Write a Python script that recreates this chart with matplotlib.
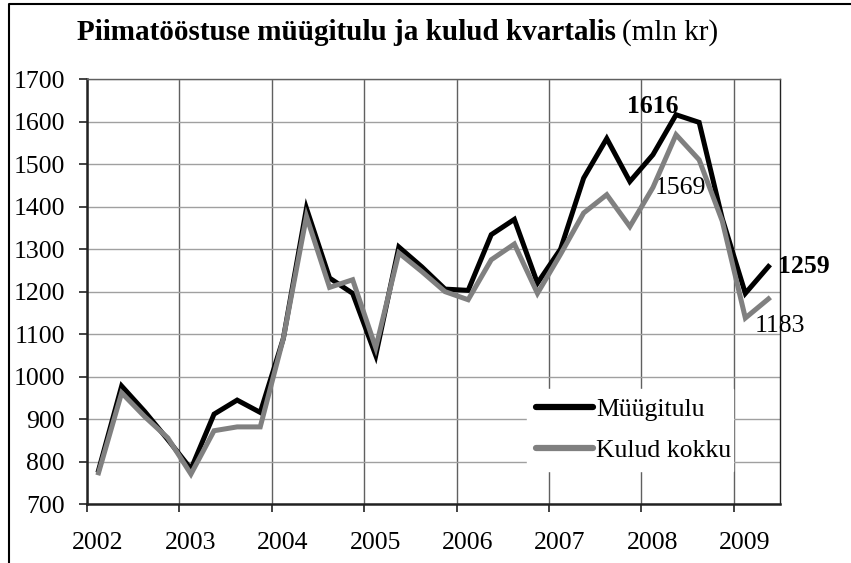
import matplotlib
matplotlib.use('Agg')
import matplotlib.pyplot as plt
import matplotlib.transforms as mtransforms
from matplotlib.lines import Line2D
import numpy as np

plt.rcParams['font.family'] = ['Liberation Serif', 'DejaVu Serif']

# quarterly data 2002 Q1 .. 2009 Q2 (mln kr)
years = [2002, 2003, 2004, 2005, 2006, 2007, 2008, 2009]
myygitulu = [780, 978, 918, 852, 783, 912, 945, 916,
             1090, 1396, 1232, 1196, 1050, 1305, 1258, 1206,
             1203, 1334, 1370, 1220, 1300, 1467, 1560, 1459,
             1522, 1616, 1598, 1372, 1196, 1259]
kulud = [774, 962, 906, 856, 771, 873, 882, 882,
         1090, 1377, 1210, 1228, 1068, 1291, 1247, 1200,
         1181, 1275, 1312, 1196, 1288, 1385, 1428, 1353,
         1445, 1569, 1510, 1366, 1138, 1183]

# x position: middle of each quarter
x = np.array([2002 + (i + 0.5) / 4 for i in range(len(myygitulu))])

fig = plt.figure(figsize=(8.51, 5.63), dpi=100)
ax = fig.add_axes([87 / 851, 1 - 504.3 / 563, (780 - 87) / 851, (504.3 - 79) / 563])

ax.plot(x, myygitulu, color='black', lw=3.6, solid_joinstyle='miter', label='Müügitulu', zorder=3)
ax.plot(x, kulud, color='#808080', lw=3.6, solid_joinstyle='miter', label='Kulud kokku', zorder=4)

ax.set_xlim(2002, 2009.5)
ax.set_ylim(700, 1700)
ax.set_yticks(range(700, 1701, 100))
ax.set_xticks(years)
ax.set_xticklabels([str(y) for y in years])

ax.yaxis.grid(True, color='#a0a0a0', lw=1)
ax.xaxis.grid(True, color='#606060', lw=1)
ax.set_axisbelow(True)

for s in ['left', 'bottom']:
    ax.spines[s].set_linewidth(1.8)
    ax.spines[s].set_color('#222222')
ax.spines['right'].set_linewidth(1)
ax.spines['right'].set_color('#222222')
ax.spines['top'].set_linewidth(1)
ax.spines['top'].set_color('#606060')

ax.tick_params(axis='both', labelsize=18.5, direction='out', length=6, width=1.2, colors='#222222')
ax.tick_params(axis='y', pad=10)
ax.tick_params(axis='x', pad=14)
for lab in ax.get_xticklabels():
    lab.set_transform(lab.get_transform() + mtransforms.ScaledTranslation(0.11, 0, fig.dpi_scale_trans))
for lab in ax.get_xticklabels() + ax.get_yticklabels():
    lab.set_color('black')

# value labels
ax.annotate('1616', xy=(x[25], myygitulu[25]), xytext=(-23, 8), textcoords='offset pixels',
            ha='center', va='center', fontsize=18.5, fontweight='bold')
ax.annotate('1569', xy=(x[25], kulud[25]), xytext=(4, -53), textcoords='offset pixels',
            ha='center', va='center', fontsize=18.5)
ax.annotate('1259', xy=(x[-1], myygitulu[-1]), xytext=(35, 0), textcoords='offset pixels',
            ha='center', va='center', fontsize=18.5, fontweight='bold', annotation_clip=False)
ax.annotate('1183', xy=(x[-1], kulud[-1]), xytext=(11, -27), textcoords='offset pixels',
            ha='center', va='center', fontsize=18.5, annotation_clip=False)

leg = ax.legend(loc='center', bbox_to_anchor=((527 - 87) / 693, (504.3 - 468) / 425.3,
                                              (733 - 527) / 693, (468 - 392) / 425.3),
                mode='expand', frameon=True, fancybox=False, framealpha=1, edgecolor='white',
                fontsize=18.5, handlelength=2.2, handletextpad=0.15, labelspacing=0.68,
                borderpad=0.35, borderaxespad=0)
for h in leg.get_lines():
    h.set_linewidth(4.5)
    h.set_solid_capstyle('round')

# title
t1 = fig.text(77 / 851, 1 - 33 / 563, 'Piimatööstuse müügitulu ja kulud kvartalis',
              fontsize=21, fontweight='bold', va='center', ha='left')
fig.canvas.draw()
bb = t1.get_window_extent()
fig.text(bb.x1 / fig.bbox.width + 0.007, 1 - 33 / 563, '(mln kr)', fontsize=21,
         va='center', ha='left')

# outer frame
fig.add_artist(Line2D([9 / 851, 9 / 851, 1], [0, 1 - 4 / 563, 1 - 4 / 563],
                      transform=fig.transFigure, color='black', lw=1.5))

fig.savefig('out.png', dpi=100)
